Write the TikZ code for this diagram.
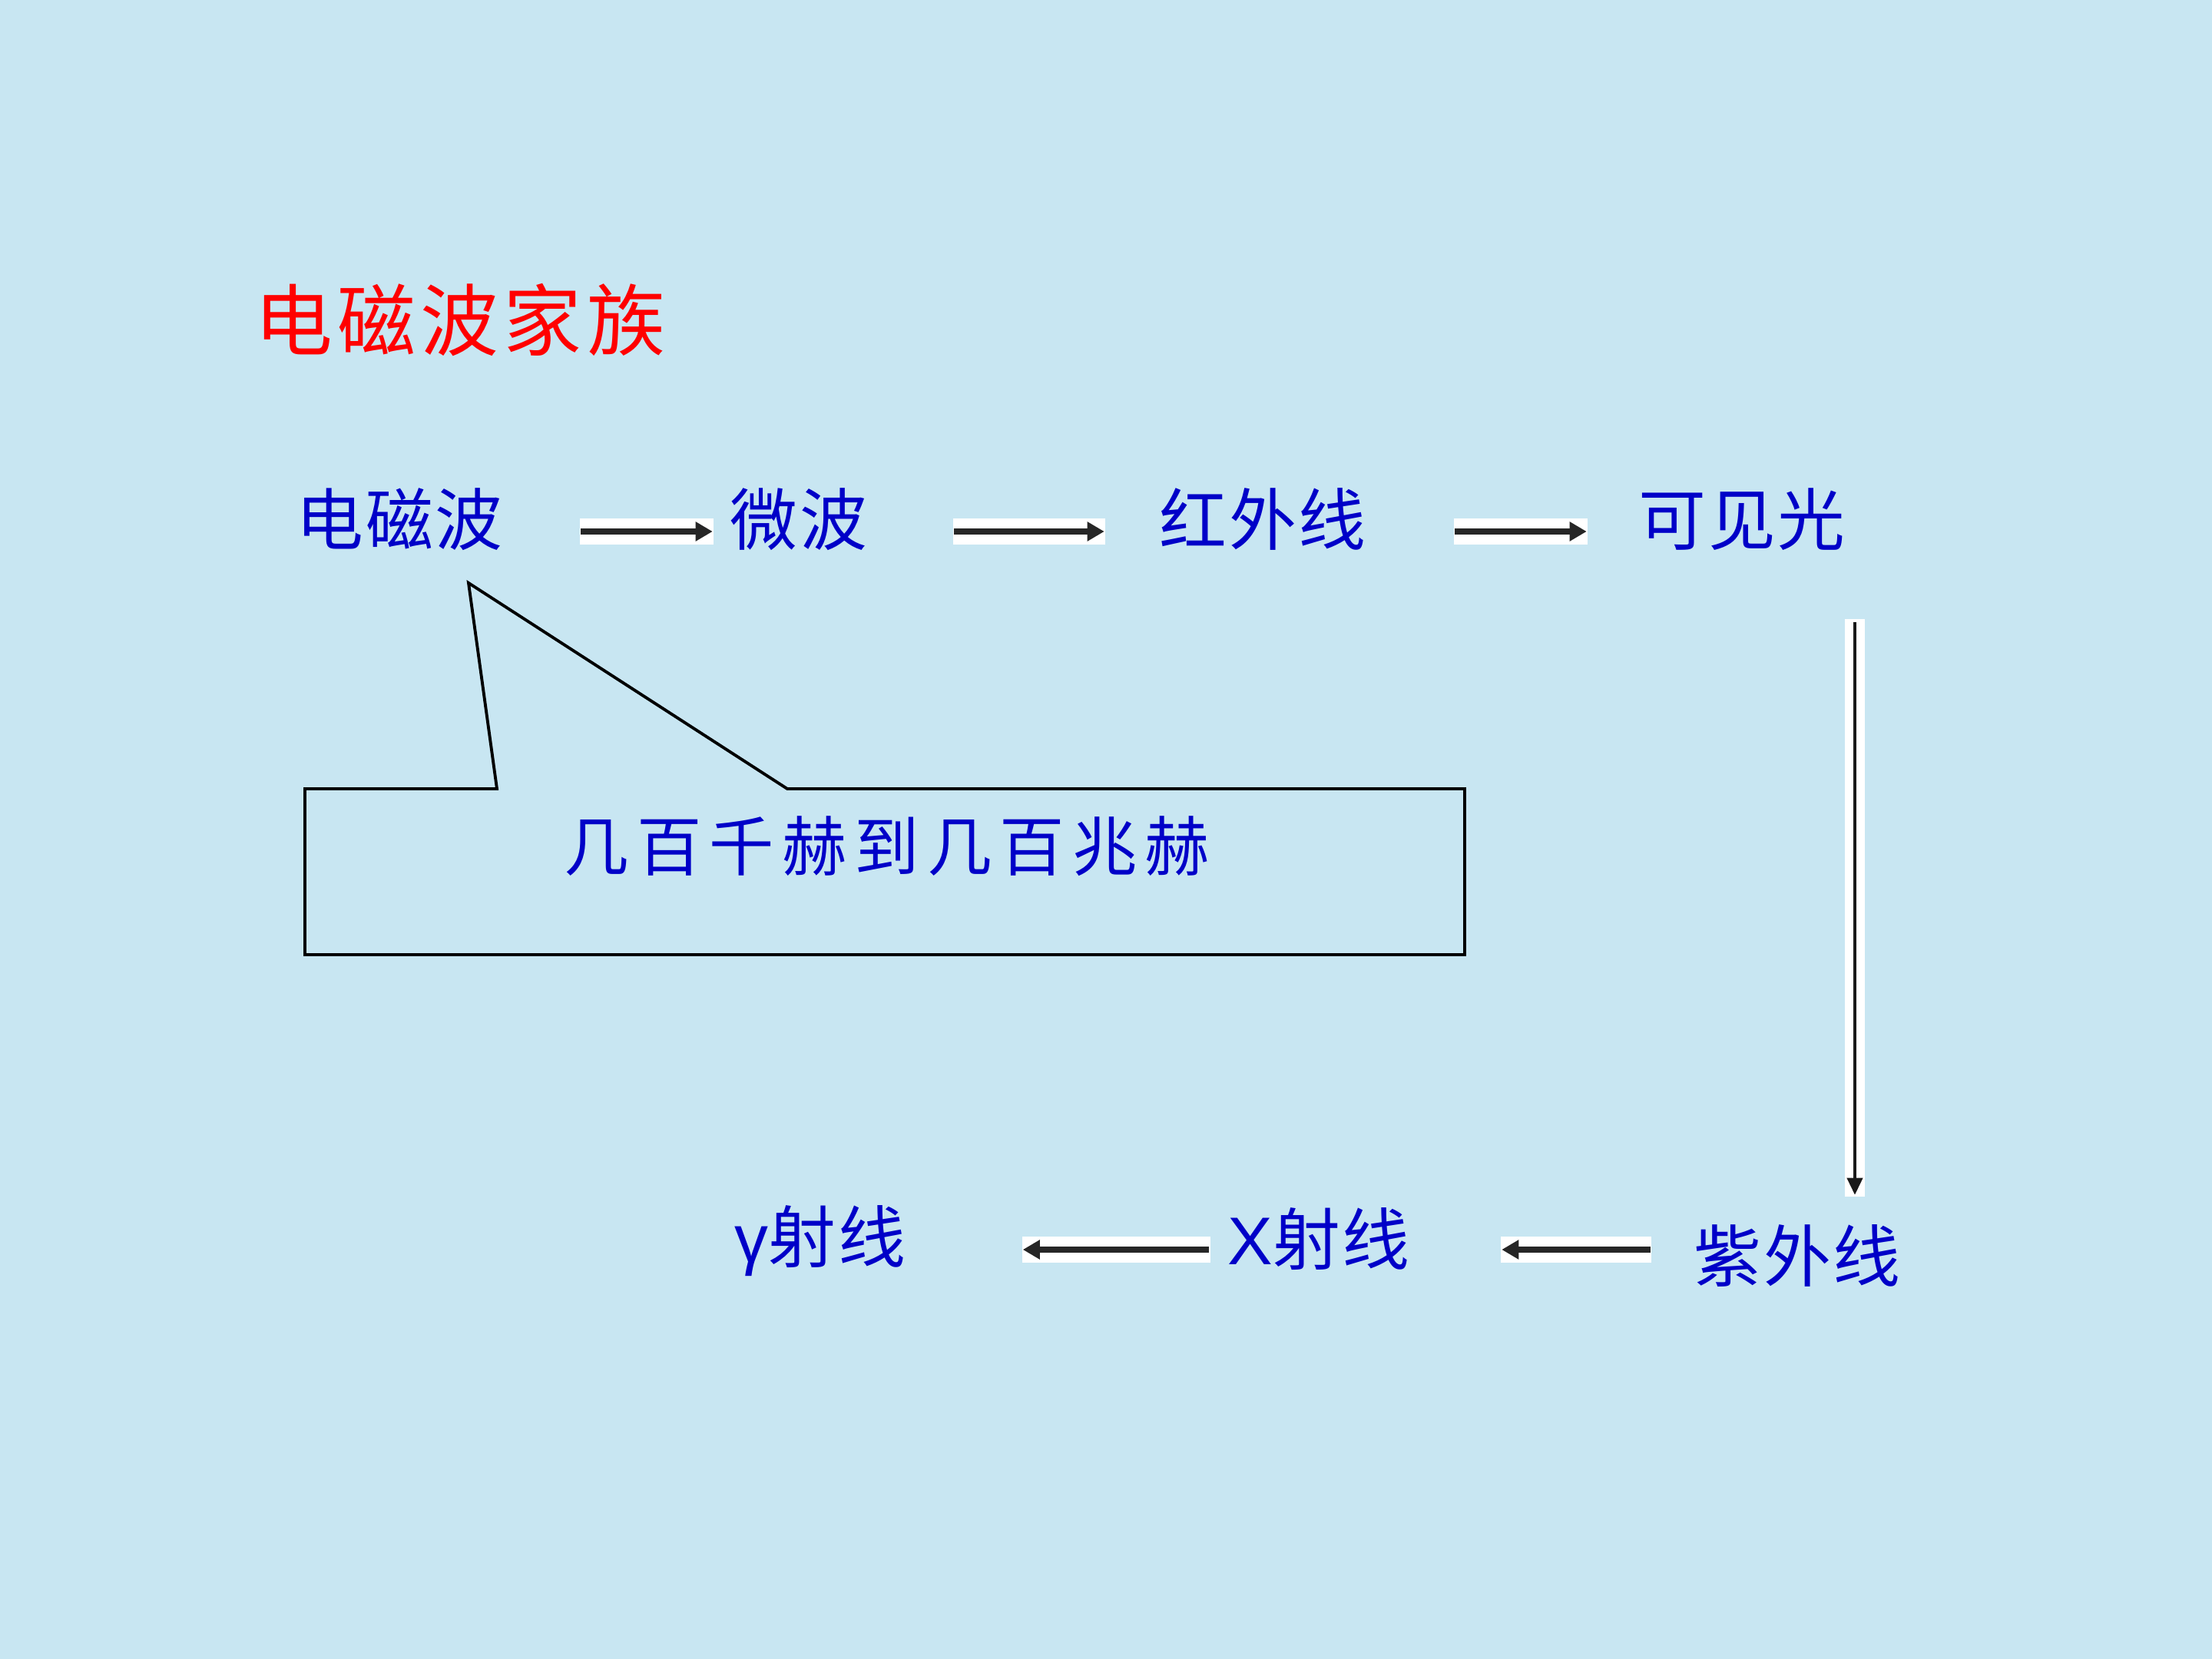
\documentclass[tikz,border=0pt]{standalone}
\usepackage{fontspec}
\newfontfamily\cjktitle[LetterSpace=6]{Noto Sans CJK SC}
\newfontfamily\cjkrow[LetterSpace=3]{Noto Sans CJK SC}
\newfontfamily\cjknote[LetterSpace=12]{Noto Sans CJK SC}
\newfontfamily\latinsans{Liberation Sans}
\usetikzlibrary{arrows.meta}
\definecolor{bgblue}{RGB}{200,230,242}
\definecolor{txtblue}{RGB}{0,0,200}
\definecolor{txtred}{RGB}{255,0,0}
\tikzset{
  term/.style={text=txtblue, font=\cjkrow\fontsize{25}{29}\selectfont, inner sep=0pt, anchor=center},
  titletext/.style={text=txtred, font=\cjktitle\fontsize{29}{33}\selectfont, inner sep=0pt},
  notetext/.style={text=txtblue, font=\cjknote\fontsize{24}{28}\selectfont, inner sep=0pt},
  hbox/.style={fill=white, draw=none, minimum height=0.34cm, inner sep=0pt},
  vbox/.style={fill=white, draw=none, minimum width=0.26cm, inner sep=0pt},
  harrow/.style={line width=2pt, draw=black!85, -{Triangle[length=0.22cm,width=0.24cm]}},
  varrow/.style={line width=1.1pt, draw=black!90, -{Triangle[length=0.22cm,width=0.2cm]}},
  calloutline/.style={draw=black, line width=1.1pt, fill=bgblue, line join=miter}
}
\begin{document}
\begin{tikzpicture}
\fill[bgblue] (0,0) rectangle (28.8,-21.6);
\useasboundingbox (0,0) rectangle (28.8,-21.6);

% title
\node[titletext] (title) at (5.99,-4.17) {电磁波家族};

% first row
\node[term] (em)  at (5.20,-6.76) {电磁波};
\node[term] (mw)  at (10.40,-6.76) {微波};
\node[term] (ir)  at (16.44,-6.76) {红外线};
\node[term] (vis) at (22.68,-6.76) {可见光};

% second row
\node[term] (uv)  at (23.40,-16.35) {紫外线};
\node[term] (xr)  at (17.17,-16.13) {{\latinsans X}射线};
\node[term] (gr)  at (10.68,-16.16) {{\latinsans γ}射线};

% arrow backgrounds
\node[hbox, minimum width=1.74cm] (a1) at (8.42,-6.92) {};
\node[hbox, minimum width=1.98cm] (a2) at (13.40,-6.92) {};
\node[hbox, minimum width=1.74cm] (a3) at (19.80,-6.92) {};
\node[vbox, minimum height=7.52cm] (a4) at (24.15,-11.82) {};
\node[hbox, minimum width=1.96cm] (a5) at (20.52,-16.27) {};
\node[hbox, minimum width=2.45cm] (a6) at (14.53,-16.27) {};

% arrows
\draw[harrow] ([xshift=0.02cm]a1.west) -- ([xshift=-0.02cm]a1.east);
\draw[harrow] ([xshift=0.02cm]a2.west) -- ([xshift=-0.02cm]a2.east);
\draw[harrow] ([xshift=0.02cm]a3.west) -- ([xshift=-0.02cm]a3.east);
\draw[varrow] ([yshift=-0.05cm]a4.north) -- ([yshift=0.03cm]a4.south);
\draw[harrow] ([xshift=-0.02cm]a5.east) -- ([xshift=0.02cm]a5.west);
\draw[harrow] ([xshift=-0.02cm]a6.east) -- ([xshift=0.02cm]a6.west);

% callout
\coordinate (tip) at (6.10,-7.59);
\draw[calloutline] (3.97,-10.27) -- (6.47,-10.27) -- (tip) -- (10.25,-10.27)
  -- (19.07,-10.27) -- (19.07,-12.43) -- (3.97,-12.43) -- cycle;
\node[notetext] (note) at (11.55,-11.02) {几百千赫到几百兆赫};
\end{tikzpicture}
\end{document}
